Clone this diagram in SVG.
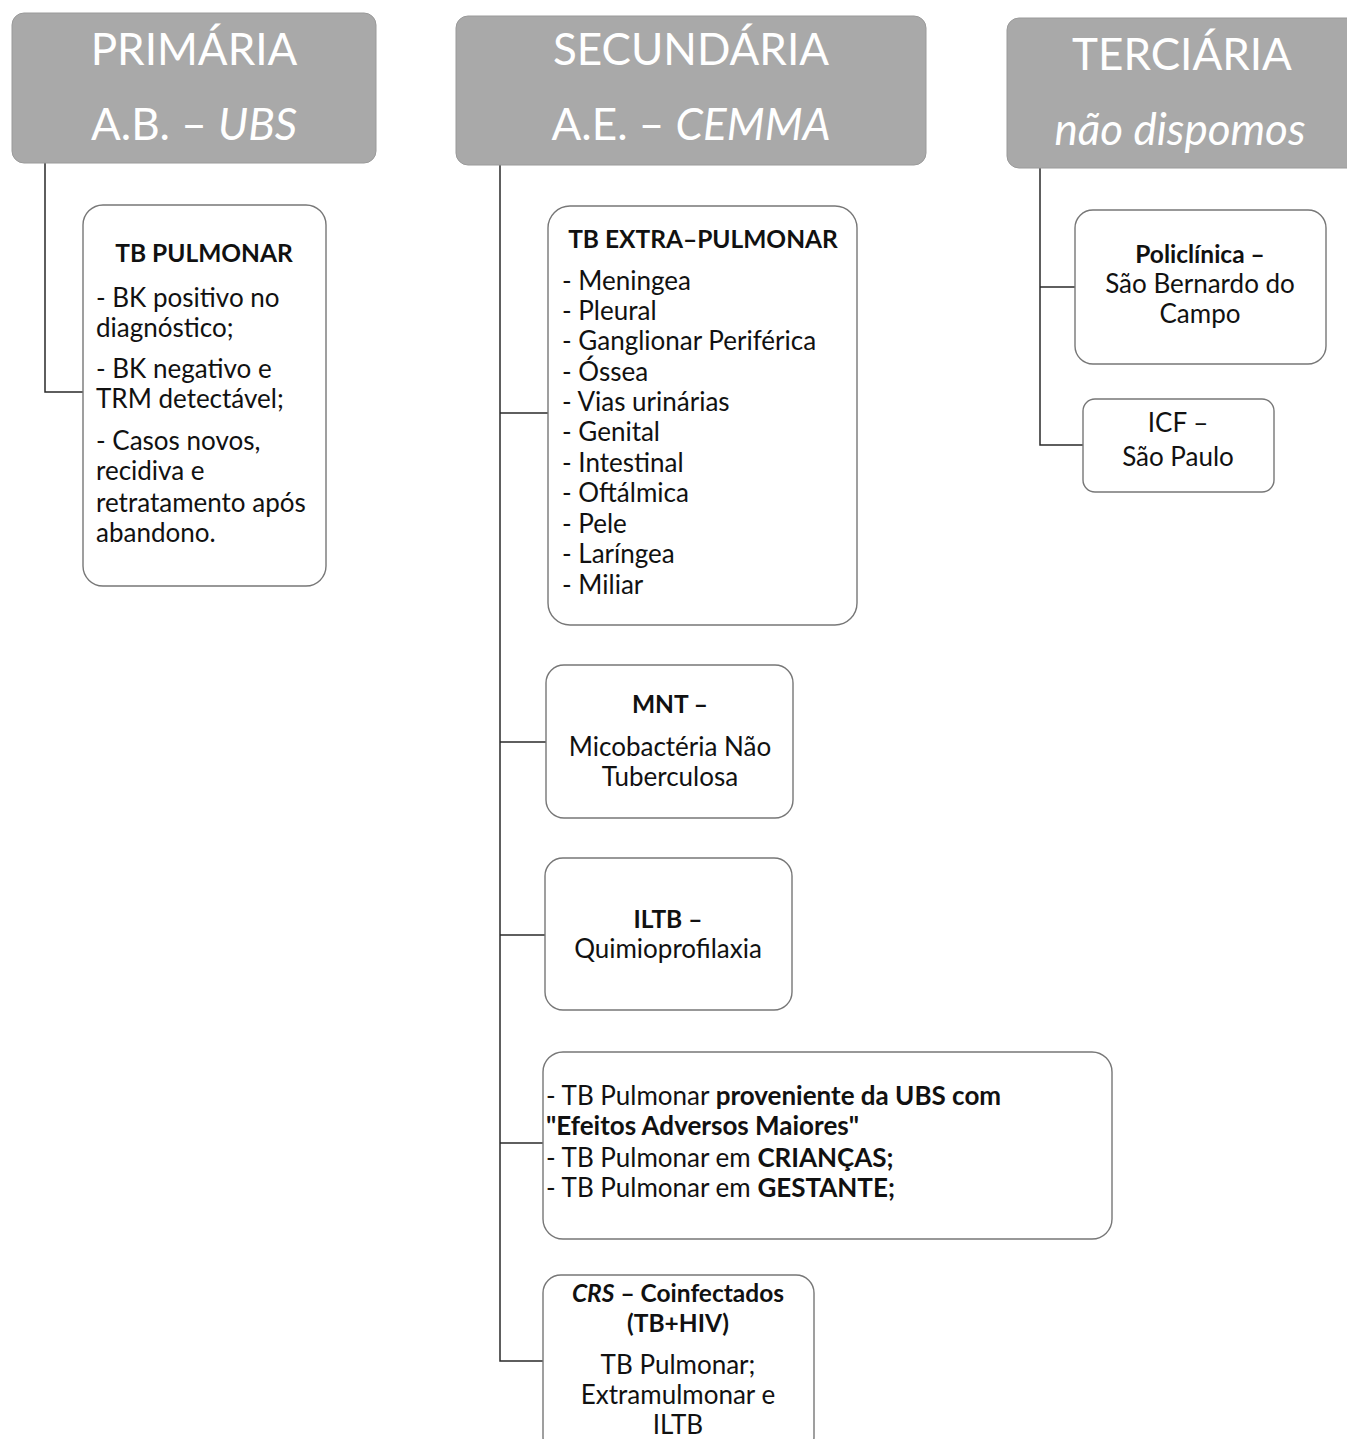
<svg xmlns="http://www.w3.org/2000/svg" width="1347" height="1439" viewBox="0 0 1347 1439">
<style>
.hdr{fill:#a9a9a9;stroke:#9a9a9a;stroke-width:1}
.ht{font-family:Lato,"Open Sans",sans-serif;font-size:44px;fill:#ffffff;text-anchor:middle}
.box{fill:#ffffff;stroke:#777777;stroke-width:1.4}
.t{font-family:Lato,"Open Sans",sans-serif;font-size:26px;fill:#111111}
.ttl{font-size:24.5px}
.c{text-anchor:middle}
.b{font-weight:bold}
.i{font-style:italic}
.con{fill:none;stroke:#2a2a2a;stroke-width:1.5}
</style>
<rect width="1347" height="1439" fill="#ffffff"/>
<g id="connectors">
<path class="con" d="M45,163 V392 H83"/>
<path class="con" d="M500,165 V1361 H543"/>
<path class="con" d="M500,413 H548"/>
<path class="con" d="M500,742 H546"/>
<path class="con" d="M500,935 H545"/>
<path class="con" d="M500,1143 H543"/>
<path class="con" d="M1040,168 V445 H1083"/>
<path class="con" d="M1040,287 H1075"/>
</g>
<g id="primaria">
<rect class="hdr" x="12" y="13" width="364" height="150" rx="12"/>
<text class="ht" x="194" y="65">PRIMÁRIA</text>
<text class="ht" x="194" y="140">A.B. – <tspan class="i">UBS</tspan></text>
</g>
<g id="secundaria">
<rect class="hdr" x="456" y="16" width="470" height="149" rx="12"/>
<text class="ht" x="691" y="65">SECUNDÁRIA</text>
<text class="ht" x="691" y="140">A.E. – <tspan class="i">CEMMA</tspan></text>
</g>
<g id="terciaria">
<rect class="hdr" x="1007" y="18" width="360" height="150" rx="12"/>
<text class="ht" x="1182" y="70">TERCIÁRIA</text>
<text class="ht i" x="1180" y="145">não dispomos</text>
</g>
<g id="tb-pulmonar">
<rect class="box" x="83" y="205" width="243" height="381" rx="20"/>
<text class="t ttl c b" x="204" y="262">TB PULMONAR</text>
<text class="t" x="96" y="307">- BK positivo no</text>
<text class="t" x="96" y="337">diagnóstico;</text>
<text class="t" x="96" y="378">- BK negativo e</text>
<text class="t" x="96" y="408">TRM detectável;</text>
<text class="t" x="96" y="450">- Casos novos,</text>
<text class="t" x="96" y="480">recidiva e</text>
<text class="t" x="96" y="512">retratamento após</text>
<text class="t" x="96" y="542">abandono.</text>
</g>
<g id="tb-extra">
<rect class="box" x="548" y="206" width="309" height="419" rx="22"/>
<text class="t ttl c b" x="703" y="248">TB EXTRA–PULMONAR</text>
<text class="t" x="562" y="290">- Meningea</text>
<text class="t" x="562" y="320">- Pleural</text>
<text class="t" x="562" y="350">- Ganglionar Periférica</text>
<text class="t" x="562" y="381">- Óssea</text>
<text class="t" x="562" y="411">- Vias urinárias</text>
<text class="t" x="562" y="441">- Genital</text>
<text class="t" x="562" y="472">- Intestinal</text>
<text class="t" x="562" y="502">- Oftálmica</text>
<text class="t" x="562" y="533">- Pele</text>
<text class="t" x="562" y="563">- Laríngea</text>
<text class="t" x="562" y="594">- Miliar</text>
</g>
<g id="mnt">
<rect class="box" x="546" y="665" width="247" height="153" rx="18"/>
<text class="t ttl c b" x="670" y="713">MNT –</text>
<text class="t c" x="670" y="756">Micobactéria Não</text>
<text class="t c" x="670" y="786">Tuberculosa</text>
</g>
<g id="iltb">
<rect class="box" x="545" y="858" width="247" height="152" rx="18"/>
<text class="t ttl c b" x="668" y="928">ILTB –</text>
<text class="t c" x="668" y="958">Quimioprofilaxia</text>
</g>
<g id="tb-pulmonar-casos">
<rect class="box" x="543" y="1052" width="569" height="187" rx="20"/>
<text class="t" x="546" y="1105">- TB Pulmonar <tspan class="b">proveniente da UBS com</tspan></text>
<text class="t b" x="546" y="1135">"Efeitos Adversos Maiores"</text>
<text class="t" x="546" y="1167">- TB Pulmonar em <tspan class="b">CRIANÇAS;</tspan></text>
<text class="t" x="546" y="1197">- TB Pulmonar em <tspan class="b">GESTANTE;</tspan></text>
</g>
<g id="crs">
<rect class="box" x="543" y="1275" width="271" height="180" rx="18"/>
<text class="t ttl c b" x="678" y="1302"><tspan class="i">CRS</tspan> – Coinfectados</text>
<text class="t ttl c b" x="678" y="1332">(TB+HIV)</text>
<text class="t c" x="678" y="1374">TB Pulmonar;</text>
<text class="t c" x="678" y="1404">Extramulmonar e</text>
<text class="t c" x="678" y="1434">ILTB</text>
</g>
<g id="policlinica">
<rect class="box" x="1075" y="210" width="251" height="154" rx="18"/>
<text class="t ttl c b" x="1200" y="263">Policlínica –</text>
<text class="t c" x="1200" y="293">São Bernardo do</text>
<text class="t c" x="1200" y="323">Campo</text>
</g>
<g id="icf">
<rect class="box" x="1083" y="399" width="191" height="93" rx="12"/>
<text class="t c" x="1178" y="432">ICF –</text>
<text class="t c" x="1178" y="466">São Paulo</text>
</g>
</svg>
